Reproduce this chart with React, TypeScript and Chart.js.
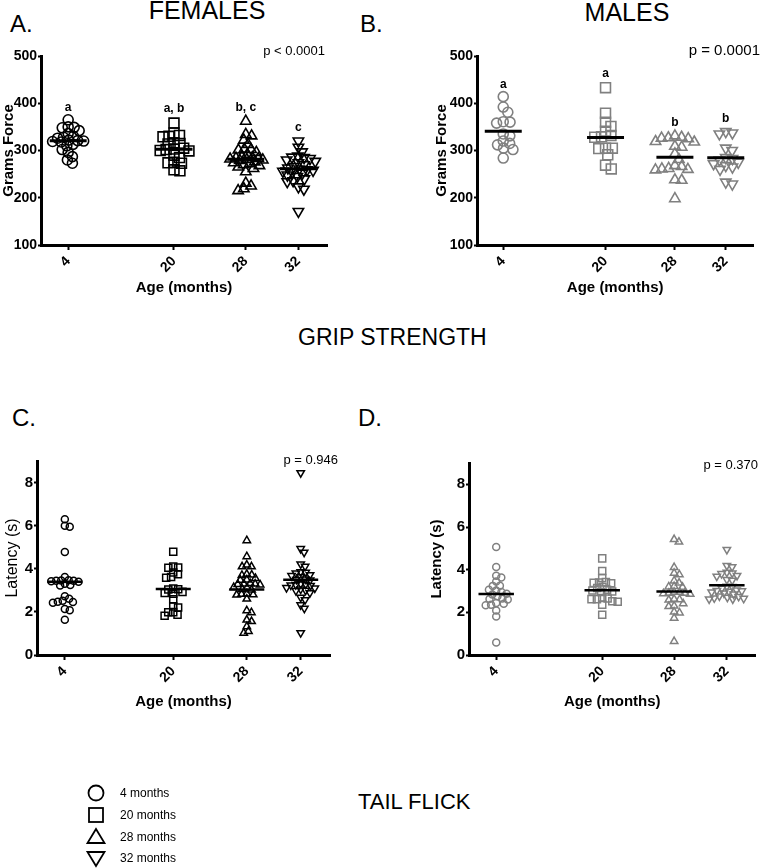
import React, { useEffect, useRef } from "react";
import { Chart, registerables } from "chart.js";
Chart.register(...registerables);

const FONT = '"Liberation Sans", Arial, Helvetica, sans-serif';

// ---------- data ----------
const ageLabels = ["4", "20", "28", "32"];
const legendLabels = ["4 months", "20 months", "28 months", "32 months"];

const femaleGrip4 = [365, 349, 348, 350, 342, 336, 330, 328, 326, 322, 321, 320, 319, 318, 313, 310, 302, 296, 287, 280, 273];
const femaleGrip20 = [358, 337, 332, 330, 329, 316, 315, 314, 305, 303, 302, 300, 299, 290, 285, 275, 274, 273, 259, 257];
const femaleGrip28 = [362, 334, 331, 322, 313, 303, 302, 301, 296, 292, 287, 285, 284, 283, 282, 281, 280, 279, 276, 274, 272, 270, 268, 265, 262, 255, 231, 225, 219, 215];
const femaleGrip32 = [320, 307, 297, 288, 286, 285, 283, 280, 277, 274, 270, 266, 263, 261, 259, 258, 256, 254, 252, 248, 245, 240, 236, 234, 223, 218, 171];

const maleGrip4 = [414, 392, 381, 361, 360, 358, 335, 331, 320, 315, 312, 305, 302, 284];
const maleGrip20 = [433, 379, 360, 351, 341, 332, 329, 328, 305, 305, 304, 291, 269, 261];
const maleGrip28 = [331, 328, 327, 326, 325, 319, 318, 309, 307, 293, 281, 268, 266, 262, 261, 260, 259, 238, 237, 198];
const maleGrip32 = [340, 337, 335, 305, 300, 283, 285, 280, 275, 272, 268, 265, 260, 233, 229];

const femaleTail4 = [6.3, 6.0, 5.95, 4.78, 3.62, 3.47, 3.46, 3.45, 3.44, 3.42, 3.4, 3.3, 3.25, 3.22, 2.73, 2.61, 2.52, 2.47, 2.46, 2.42, 2.13, 2.08, 1.63];
const femaleTail20 = [4.79, 4.1, 4.06, 4.05, 3.83, 3.75, 3.62, 3.58, 3.08, 3.05, 3.04, 2.93, 2.88, 2.84, 2.59, 2.25, 2.2, 1.99, 1.98, 1.87, 1.82];
const femaleTail28 = [5.31, 4.57, 4.18, 4.1, 4.1, 3.75, 3.72, 3.7, 3.56, 3.49, 3.48, 3.32, 3.3, 3.3, 3.28, 3.26, 3.14, 3.12, 3.05, 3.02, 2.84, 2.82, 2.8, 2.79, 2.6, 2.06, 1.97, 1.63, 1.56, 1.32, 1.1, 1.02];
const femaleTail32 = [8.45, 4.93, 4.76, 4.22, 4.11, 3.86, 3.83, 3.8, 3.72, 3.68, 3.62, 3.52, 3.5, 3.47, 3.3, 3.28, 3.26, 3.24, 3.22, 3.12, 3.1, 3.05, 3.0, 2.98, 2.88, 2.67, 2.56, 2.32, 2.16, 1.03];

const maleTail4 = [5.06, 4.13, 3.72, 3.63, 3.44, 3.25, 3.24, 3.06, 3.02, 2.95, 2.87, 2.84, 2.75, 2.65, 2.62, 2.6, 2.44, 2.4, 2.36, 2.33, 2.09, 1.81, 0.59];
const maleTail20 = [4.53, 3.94, 3.61, 3.42, 3.4, 3.38, 3.36, 3.2, 3.14, 3.06, 3.02, 2.98, 2.95, 2.67, 2.65, 2.62, 2.62, 2.52, 2.5, 2.36, 1.89];
const maleTail28 = [5.42, 5.3, 4.11, 3.84, 3.77, 3.48, 3.38, 3.22, 3.2, 3.18, 2.95, 2.9, 2.95, 2.9, 2.88, 2.85, 2.62, 2.6, 2.58, 2.41, 2.3, 2.28, 2.02, 1.98, 1.73, 0.64];
const maleTail32 = [4.94, 4.19, 4.13, 3.87, 3.84, 3.81, 3.72, 3.69, 3.53, 3.5, 3.0, 2.95, 3.22, 3.2, 3.12, 3.04, 3.02, 2.98, 2.9, 2.85, 2.76, 2.74, 2.7, 2.67, 2.65, 2.62, 2.62];

const femaleGripLetters = ["a", "a, b", "b, c", "c"];
const maleGripLetters = ["a", "a", "b", "b"];

const pFemaleGrip = "p < 0.0001";
const pMaleGrip = "p = 0.0001";
const pFemaleTail = "p = 0.946";
const pMaleTail = "p = 0.370";

// ---------- layout constants ----------
const CAT_POS = [0.095, 0.465, 0.716, 0.9];
const POINT_STYLES = ["circle", "rect", "triangle", "triangle"];
const POINT_ROT = [0, 0, 0, 180];

type Spec = {
  groups: number[][];
  letters: string[] | null;
  color: string;
  yMin: number;
  yMax: number;
  yStep: number;
  yTitle: string;
  yTitleWeight: string;
  yTitleSize: number;
  tickSize: number;
  left: number;
  top: number;
  width: number;
  height: number;
  yWidth: number;
  padLeft: number;
  padRight: number;
  xHeight: number;
  pxPerUnit: number;
  axisPx: number;
  radii: number[];
  markerLine: number;
  gap: number;
  maxSpread: number;
  meanHalf: number;
  meanWidth: number;
};

const PANELS: Spec[] = [
  {
    groups: [femaleGrip4, femaleGrip20, femaleGrip28, femaleGrip32],
    letters: femaleGripLetters, color: "#000000",
    yMin: 100, yMax: 500, yStep: 100, yTitle: "Grams Force", yTitleWeight: "bold", yTitleSize: 15, tickSize: 14,
    left: 0, top: 36, width: 337, height: 265, yWidth: 41, padLeft: 0, padRight: 10, xHeight: 56,
    pxPerUnit: 0.4725, axisPx: 286, radii: [5, 7, 6, 6], markerLine: 1.6, gap: 6, maxSpread: 17, meanHalf: 18.5, meanWidth: 3,
  },
  {
    groups: [maleGrip4, maleGrip20, maleGrip28, maleGrip32],
    letters: maleGripLetters, color: "#808080",
    yMin: 100, yMax: 500, yStep: 100, yTitle: "Grams Force", yTitleWeight: "bold", yTitleSize: 15, tickSize: 14,
    left: 433, top: 36, width: 329, height: 265, yWidth: 44, padLeft: 0, padRight: 1, xHeight: 56,
    pxPerUnit: 0.4725, axisPx: 284, radii: [5, 7, 6, 6], markerLine: 1.6, gap: 7, maxSpread: 20, meanHalf: 19, meanWidth: 3,
  },
  {
    groups: [femaleTail4, femaleTail20, femaleTail28, femaleTail32],
    letters: null, color: "#000000",
    yMin: 0, yMax: 9, yStep: 2, yTitle: "Latency (s)", yTitleWeight: "normal", yTitleSize: 16, tickSize: 15,
    left: 0, top: 441, width: 340, height: 274, yWidth: 34, padLeft: 3, padRight: 10, xHeight: 60,
    pxPerUnit: 21.5, axisPx: 293, radii: [3.5, 5, 4.3, 4.3], markerLine: 1.5, gap: 5, maxSpread: 17, meanHalf: 17.5, meanWidth: 2.5,
  },
  {
    groups: [maleTail4, maleTail20, maleTail28, maleTail32],
    letters: null, color: "#808080",
    yMin: 0, yMax: 9, yStep: 2, yTitle: "Latency (s)", yTitleWeight: "bold", yTitleSize: 15, tickSize: 15,
    left: 428, top: 443, width: 334, height: 272, yWidth: 41, padLeft: 0, padRight: 2, xHeight: 60,
    pxPerUnit: 21.3, axisPx: 291, radii: [3.5, 5, 4.3, 4.3], markerLine: 1.5, gap: 5.5, maxSpread: 18, meanHalf: 18, meanWidth: 2.5,
  },
];

// ---------- helpers ----------
function mean(a: number[]) {
  return a.reduce((s, v) => s + v, 0) / a.length;
}

// deterministic beeswarm layout (pixel offsets), limited to a maximum half-width
function swarmOffsets(values: number[], pxPerUnit: number, gap: number, maxSpread: number): number[] {
  const order = values.map((_, i) => i).sort((a, b) => values[b] - values[a]);
  const placed: { x: number; y: number }[] = [];
  const out = new Array(values.length).fill(0);
  for (const i of order) {
    const y = values[i] * pxPerUnit;
    const cands = [0];
    const forb: [number, number][] = [];
    for (const p of placed) {
      const dy = Math.abs(p.y - y);
      if (dy < gap) {
        const dx = Math.sqrt(gap * gap - dy * dy);
        forb.push([p.x - dx, p.x + dx]);
        cands.push(p.x - dx, p.x + dx);
      }
    }
    let ok = cands.filter((c) => Math.abs(c) <= maxSpread && forb.every(([a, b]) => c <= a + 1e-6 || c >= b - 1e-6));
    if (!ok.length) {
      let best = 0;
      let bestD = -1;
      for (let t = -maxSpread; t <= maxSpread; t += 1) {
        let d = Infinity;
        for (const p of placed) d = Math.min(d, Math.hypot(p.x - t, p.y - y));
        if (d > bestD) {
          bestD = d;
          best = t;
        }
      }
      ok = [best];
    }
    ok.sort((a, b) => Math.abs(a) - Math.abs(b) || b - a);
    const x = ok[0];
    placed.push({ x, y });
    out[i] = x;
  }
  return out;
}

function makeLetterPlugin(spec: Spec) {
  return {
    id: "groupLetters",
    afterDatasetsDraw(chart: any) {
      if (!spec.letters) return;
      const { ctx } = chart;
      const xs = chart.scales.x;
      const ys = chart.scales.y;
      ctx.save();
      ctx.font = `bold 12px ${FONT}`;
      ctx.fillStyle = "#000";
      ctx.textAlign = "center";
      ctx.textBaseline = "alphabetic";
      spec.groups.forEach((vals, gi) => {
        const top = Math.max(...vals);
        const y = ys.getPixelForValue(top) - spec.radii[gi] - 4;
        ctx.fillText(spec.letters![gi], xs.getPixelForValue(CAT_POS[gi]), y);
      });
      ctx.restore();
    },
  };
}

function buildConfig(spec: Spec): any {
  const datasets: any[] = [];
  spec.groups.forEach((vals, gi) => {
    const m = mean(vals);
    const h = spec.meanHalf / spec.axisPx;
    datasets.push({
      label: "mean " + ageLabels[gi],
      data: [
        { x: CAT_POS[gi] - h, y: m },
        { x: CAT_POS[gi] + h, y: m },
      ],
      showLine: true,
      borderColor: "#000",
      borderWidth: spec.meanWidth,
      pointRadius: 0,
      order: 0,
    });
  });
  spec.groups.forEach((vals, gi) => {
    const offs = swarmOffsets(vals, spec.pxPerUnit, spec.gap, spec.maxSpread);
    datasets.push({
      label: legendLabels[gi],
      data: vals.map((v, i) => ({ x: CAT_POS[gi] + offs[i] / spec.axisPx, y: v })),
      showLine: false,
      pointStyle: POINT_STYLES[gi],
      rotation: POINT_ROT[gi],
      pointRadius: spec.radii[gi],
      pointBorderWidth: spec.markerLine,
      borderColor: spec.color,
      backgroundColor: "rgba(0,0,0,0)",
      order: 1,
    });
  });

  return {
    type: "scatter",
    data: { datasets },
    plugins: [makeLetterPlugin(spec)],
    options: {
      animation: false,
      responsive: false,
      maintainAspectRatio: false,
      layout: { padding: { left: spec.padLeft, top: 20, right: spec.padRight, bottom: 0 } },
      plugins: { legend: { display: false }, tooltip: { enabled: false } },
      scales: {
        x: {
          type: "linear",
          min: 0,
          max: 1,
          afterBuildTicks: (s: any) => {
            s.ticks = CAT_POS.map((v) => ({ value: v }));
          },
          afterFit: (s: any) => {
            s.height = spec.xHeight;
          },
          ticks: {
            autoSkip: false,
            minRotation: 45,
            maxRotation: 45,
            padding: 3,
            color: "#000",
            font: { family: FONT, size: 14, weight: "bold" },
            callback: (_v: any, i: number) => ageLabels[i],
          },
          grid: { drawOnChartArea: false, drawTicks: true, tickLength: 5, tickWidth: 2, tickColor: "#000" },
          border: { display: true, color: "#000", width: 3 },
          title: {
            display: true,
            text: "Age (months)",
            color: "#000",
            font: { family: FONT, size: 15, weight: "bold" },
            padding: { top: 4, bottom: 4 },
          },
        },
        y: {
          type: "linear",
          min: spec.yMin,
          max: spec.yMax,
          afterFit: (s: any) => {
            s.width = spec.yWidth;
          },
          ticks: {
            stepSize: spec.yStep,
            includeBounds: false,
            padding: 1,
            color: "#000",
            font: { family: FONT, size: spec.tickSize, weight: "bold" },
          },
          grid: { drawOnChartArea: false, drawTicks: true, tickLength: 3, tickWidth: 2, tickColor: "#000" },
          border: { display: true, color: "#000", width: 3 },
          title: {
            display: true,
            text: spec.yTitle,
            color: "#000",
            font: { family: FONT, size: spec.yTitleSize, weight: spec.yTitleWeight },
            padding: { top: 0, bottom: 0 },
          },
        },
      },
    },
  };
}

function Panel({ spec }: { spec: Spec }) {
  const ref = useRef<HTMLCanvasElement>(null);
  useEffect(() => {
    const chart = new Chart(ref.current as HTMLCanvasElement, buildConfig(spec));
    return () => chart.destroy();
  }, [spec]);
  return (
    <canvas
      ref={ref}
      width={spec.width}
      height={spec.height}
      style={{ position: "absolute", left: spec.left, top: spec.top, width: spec.width, height: spec.height }}
    />
  );
}

function Label(props: { text: string; x: number; base: number; size: number; bold?: boolean; align?: "left" | "center" | "right" }) {
  const { text, x, base, size, bold, align } = props;
  const style: any = {
    position: "absolute",
    top: base - 0.8465 * size,
    fontFamily: FONT,
    fontSize: size,
    lineHeight: `${size}px`,
    fontWeight: bold ? "bold" : "normal",
    whiteSpace: "nowrap",
    color: "#000",
  };
  if (align === "right") {
    style.right = 762 - x;
  } else if (align === "center") {
    style.left = x - 200;
    style.width = 400;
    style.textAlign = "center";
  } else {
    style.left = x;
  }
  return <div style={style}>{text}</div>;
}

function LegendSymbol({ kind, cx, cy }: { kind: number; cx: number; cy: number }) {
  const s = { fill: "none", stroke: "#000", strokeWidth: 1.8 };
  if (kind === 0) return <circle cx={cx} cy={cy} r={7.5} {...s} />;
  if (kind === 1) return <rect x={cx - 7} y={cy - 7} width={14} height={14} {...s} />;
  if (kind === 2)
    return <polygon points={`${cx},${cy - 8} ${cx - 8.5},${cy + 6} ${cx + 8.5},${cy + 6}`} {...s} />;
  return <polygon points={`${cx},${cy + 8} ${cx - 8.5},${cy - 6} ${cx + 8.5},${cy - 6}`} {...s} />;
}

export default function App() {
  const legendY = [793, 815, 837, 858];
  return (
    <div style={{ position: "absolute", left: 0, top: 0, width: 762, height: 868, overflow: "hidden", background: "#fff" }}>
      <Label text="FEMALES" x={207} base={19} size={25} align="center" />
      <Label text="MALES" x={627} base={21} size={25} align="center" />
      <Label text="A." x={10} base={32.7} size={24} />
      <Label text="B." x={360} base={32.7} size={24} />
      <Label text="GRIP STRENGTH" x={298} base={345} size={23} />
      <Label text="C." x={12} base={426} size={24} />
      <Label text="D." x={358} base={426} size={24} />
      <Label text="TAIL FLICK" x={358} base={810} size={22} />

      {PANELS.map((p, i) => (
        <Panel key={i} spec={p} />
      ))}

      <Label text={pFemaleGrip} x={325} base={55} size={13} align="right" />
      <Label text={pMaleGrip} x={760} base={55} size={15} align="right" />
      <Label text={pFemaleTail} x={338} base={464} size={13} align="right" />
      <Label text={pMaleTail} x={758} base={469} size={13} align="right" />

      <svg style={{ position: "absolute", left: 0, top: 0 }} width={762} height={868}>
        {legendY.map((y, i) => (
          <LegendSymbol key={i} kind={i} cx={96} cy={y} />
        ))}
      </svg>
      {legendY.map((y, i) => (
        <Label key={i} text={legendLabels[i]} x={120} base={y + 4.3} size={12} />
      ))}
    </div>
  );
}
